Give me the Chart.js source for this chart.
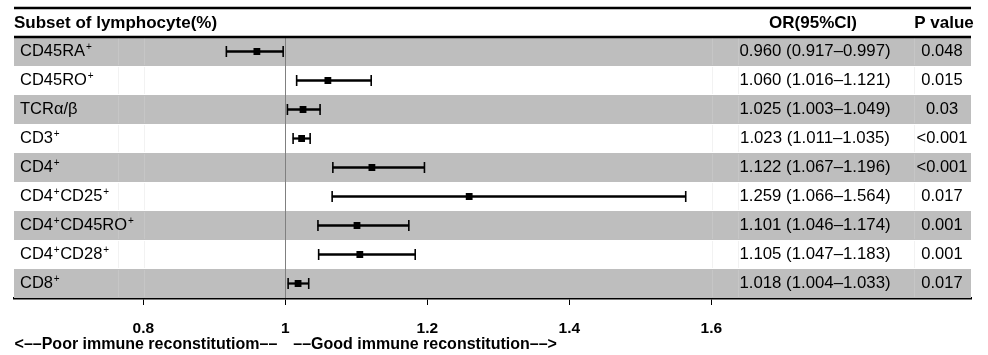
<!DOCTYPE html>
<html><head><meta charset="utf-8">
<script src="https://cdn.jsdelivr.net/npm/chart.js@4.4.0/dist/chart.umd.min.js"></script>
<style>html,body{margin:0;padding:0;background:#fff}#wrap{width:988px;height:355px}</style>
</head><body><div id="wrap"><canvas id="c" width="988" height="355"></canvas></div>
<script>
const categories = ['CD45RA⁺','CD45RO⁺','TCRα/β','CD3⁺','CD4⁺','CD4⁺CD25⁺','CD4⁺CD45RO⁺','CD4⁺CD28⁺','CD8⁺'];
const orValues = [0.960,1.060,1.025,1.023,1.122,1.259,1.101,1.105,1.018];
const ciLow    = [0.917,1.016,1.003,1.011,1.067,1.066,1.046,1.047,1.004];
const ciHigh   = [0.997,1.121,1.049,1.035,1.196,1.564,1.174,1.183,1.033];
const pValues  = ['0.048','0.015','0.03','<0.001','<0.001','0.017','0.001','0.001','0.017'];
const tickValues = [0.8,1,1.2,1.4,1.6];
const headerLabel = 'Subset of lymphocyte(%)';
const headerOR = 'OR(95%CI)';
const headerP = 'P value';
const leftNote = '<\u2013\u2013Poor immune reconstitutiom\u2013\u2013';
const rightNote = '\u2013\u2013Good immune reconstitution\u2013\u2013>';

const FONT = 'Liberation Sans, Arial, Helvetica, sans-serif';
const GRAY = '#bebebe';
const fmt = v => v.toFixed(3);
const orText = orValues.map((v,i)=> fmt(v)+' ('+fmt(ciLow[i])+'\u2013'+fmt(ciHigh[i])+')');

function drawRich(ctx, text, x, y){
  // draws text, rendering '⁺' as a small raised '+'
  let cx = x;
  const parts = text.split(/(⁺)/);
  parts.forEach(p=>{
    if(!p) return;
    if(p==='⁺'){
      ctx.font = '10px ' + FONT;
      ctx.fillText('+', cx+0.8, y-4);
      cx += ctx.measureText('+').width + 1.3;
    } else {
      ctx.font = '16.5px ' + FONT;
      ctx.fillText(p, cx, y);
      cx += ctx.measureText(p).width;
    }
  });
}

const tablePlugin = {
  id:'table',
  beforeDatasetsDraw(chart){
    const {ctx, chartArea:a, scales:{x,y}} = chart;
    const h = (a.bottom - a.top)/categories.length;
    ctx.save();
    categories.forEach((c,i)=>{
      const yc = y.getPixelForValue(i);
      const top = yc - h/2;
      if(i%2===0){ ctx.fillStyle = GRAY; ctx.fillRect(a.left, top, a.right-a.left, h); }
      ctx.strokeStyle = i%2===0 ? '#c6c6c6' : '#f2f2f2';
      ctx.lineWidth = 1;
      [118,144,712,738,914].forEach(px=>{
        ctx.beginPath(); ctx.moveTo(px+0.5, top+1); ctx.lineTo(px+0.5, top+h-1); ctx.stroke();
      });
    });
    const x1 = Math.round(x.getPixelForValue(1))+0.5;
    ctx.strokeStyle = '#808080'; ctx.lineWidth = 1;
    ctx.beginPath(); ctx.moveTo(x1, a.top); ctx.lineTo(x1, a.bottom); ctx.stroke();
    ctx.restore();
  },
  afterDraw(chart){
    const {ctx, chartArea:a, scales:{x,y}} = chart;
    ctx.save();
    ctx.strokeStyle = '#000'; ctx.lineWidth = 2.5;
    ctx.beginPath(); ctx.moveTo(a.left, 8); ctx.lineTo(a.right, 8); ctx.stroke();
    ctx.beginPath(); ctx.moveTo(a.left, a.top); ctx.lineTo(a.right, a.top); ctx.stroke();
    ctx.fillStyle = '#000';
    ctx.textBaseline = 'middle';
    ctx.font = 'bold 17px ' + FONT;
    ctx.textAlign = 'left'; ctx.fillText(headerLabel, 14, 23);
    ctx.textAlign = 'center'; ctx.fillText(headerOR, 813, 23);
    ctx.fillText(headerP, 944, 23);
    categories.forEach((c,i)=>{
      const yc = y.getPixelForValue(i);
      ctx.textAlign = 'left'; drawRich(ctx, c, 20, yc);
      ctx.font = '16.8px ' + FONT;
      ctx.textAlign = 'center'; ctx.fillText(orText[i], 815, yc);
      ctx.font = '16.5px ' + FONT;
      ctx.fillText(pValues[i], 942, yc);
    });
    ctx.font = 'bold 16px ' + FONT;
    const x1 = x.getPixelForValue(1);
    ctx.textAlign = 'right'; ctx.fillText(leftNote, x1-8, 345);
    ctx.textAlign = 'left'; ctx.fillText(rightNote, x1+8, 345);
    ctx.restore();
  }
};

new Chart(document.getElementById('c'), {
  type:'bar',
  data:{ labels: categories, datasets:[
    {type:'scatter', data: categories.map((c,i)=>({x:orValues[i], y:c})), pointStyle:'rect', radius:4.8, hoverRadius:4.8, backgroundColor:'#000', borderColor:'#000', borderWidth:0},
    {type:'scatter', data: categories.map((c,i)=>({x:ciLow[i], y:c})), pointStyle:'line', pointRotation:90, radius:5.5, hoverRadius:5.5, borderColor:'#000', borderWidth:1.6},
    {type:'scatter', data: categories.map((c,i)=>({x:ciHigh[i], y:c})), pointStyle:'line', pointRotation:90, radius:5.5, hoverRadius:5.5, borderColor:'#000', borderWidth:1.6},
    {type:'bar', data: categories.map((c,i)=>[ciLow[i], ciHigh[i]]), backgroundColor:'#000', barThickness:1.6, borderWidth:0, borderSkipped:false}
  ]},
  options:{
    indexAxis:'y', animation:false, responsive:false, devicePixelRatio:1,
    layout:{padding:{left:14,right:17,top:37,bottom:0}},
    plugins:{legend:{display:false}, tooltip:{enabled:false}},
    scales:{
      x:{type:'linear', min:0.6179, max:1.9658,
         afterBuildTicks: s=>{ s.ticks = tickValues.map(v=>({value:v})); },
         afterFit: s=>{ s.height = 57; },
         grid:{drawOnChartArea:false, drawTicks:true, tickLength:7, color:'#000', lineWidth:1},
         border:{display:true, color:'#000', width:2.5},
         ticks:{font:{family:FONT, size:15.5, weight:'bold'}, color:'#000', padding:14, maxRotation:0, autoSkip:false, callback:v=>String(v)}},
      y:{type:'category', display:false, offset:true}
    }
  },
  plugins:[tablePlugin]
});
</script></body></html>
